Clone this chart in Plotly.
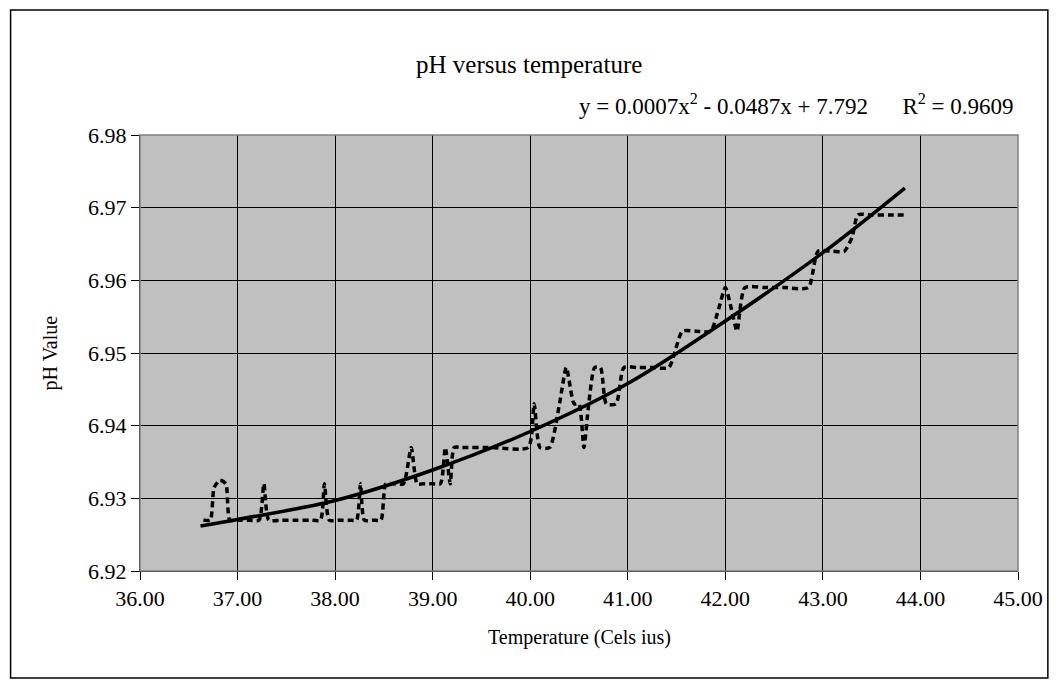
import plotly.graph_objects as go

temp = [36.65, 36.72, 36.76, 36.82, 36.88, 36.92, 37.00, 37.10, 37.22, 37.27,
        37.32, 37.45, 37.60, 37.75, 37.85, 37.89, 37.94, 38.05, 38.15, 38.22,
        38.26, 38.30, 38.40, 38.47, 38.52, 38.60, 38.70, 38.78, 38.84, 38.90,
        39.00, 39.08, 39.13, 39.18, 39.22, 39.30, 39.60, 39.98, 40.04, 40.10,
        40.20, 40.30, 40.37, 40.45, 40.50, 40.55, 40.60, 40.66, 40.72, 40.78,
        40.88, 40.96, 41.10, 41.25, 41.42, 41.56, 41.70, 41.85, 41.93, 42.00,
        42.08, 42.12, 42.20, 42.40, 42.60, 42.85, 42.95, 43.10, 43.22, 43.30,
        43.36, 43.50, 43.70, 43.86]
ph = [6.927, 6.927, 6.9315, 6.9325, 6.932, 6.927, 6.927, 6.927, 6.927, 6.932,
      6.927, 6.927, 6.927, 6.927, 6.927, 6.932, 6.927, 6.927, 6.927, 6.927,
      6.932, 6.927, 6.927, 6.927, 6.932, 6.932, 6.932, 6.937, 6.932, 6.932,
      6.932, 6.932, 6.937, 6.932, 6.937, 6.937, 6.937, 6.937, 6.943, 6.937,
      6.937, 6.943, 6.948, 6.943, 6.943, 6.937, 6.943, 6.948, 6.948, 6.943,
      6.943, 6.948, 6.948, 6.948, 6.948, 6.953, 6.953, 6.953, 6.956, 6.959,
      6.955, 6.953, 6.959, 6.959, 6.959, 6.959, 6.964, 6.964, 6.964, 6.966,
      6.969, 6.969, 6.969, 6.969]

# polynomial trend line, sampled off the chart
trend_temp = [36.62, 37.0, 38.0, 39.0, 40.0, 41.0, 42.0, 43.0, 43.84]
trend_ph = [6.9262, 6.9271, 6.9297, 6.9339, 6.9392, 6.9458, 6.9544, 6.9638, 6.9727]

FONT = "Liberation Serif, Times New Roman, serif"

fig = go.Figure()
fig.add_trace(go.Scatter(x=temp, y=ph, mode='lines', name='pH',
                         line=dict(color='black', width=3.5, dash='6px,4px',
                                   shape='spline', smoothing=0.6)))
fig.add_trace(go.Scatter(x=trend_temp, y=trend_ph, mode='lines', name='Poly. trend',
                         line=dict(color='black', width=3.5, shape='spline')))

axis_common = dict(showgrid=True, gridcolor='black', gridwidth=1, showline=True,
                   linecolor='black', linewidth=1, ticks='outside', ticklen=8,
                   tickcolor='black', zeroline=False,
                   tickfont=dict(family=FONT, size=22, color='black'))

# the page body adds an 8px margin, so the figure is sized to fit inside the window
fig.update_layout(
    width=1047, height=672,
    margin=dict(l=132, r=33, t=127, b=109),
    paper_bgcolor='white', plot_bgcolor='#C0C0C0',
    showlegend=False,
    font=dict(family=FONT, color='black'),
    xaxis=dict(range=[36, 45], dtick=1, tickformat='.2f', **axis_common),
    yaxis=dict(range=[6.92, 6.98], dtick=0.01, tickformat='.2f', **axis_common),
    shapes=[
        # plot area border
        dict(type='rect', xref='paper', yref='paper', x0=0, x1=1, y0=0, y1=1,
             line=dict(color='#808080', width=1.5)),
        # chart area frame
        dict(type='rect', xref='paper', yref='paper', x0=-0.1474, x1=1.034,
             y0=-0.2454, y1=1.2867, line=dict(color='black', width=1.5)),
    ],
    annotations=[
        dict(text='pH versus temperature', xref='paper', yref='paper', x=0.443, y=1.1606,
             xanchor='center', yanchor='middle', showarrow=False,
             font=dict(size=25, family=FONT)),
        dict(text='y = 0.0007x<sup>2</sup> - 0.0487x + 7.792&nbsp;&nbsp;&nbsp;&nbsp;&nbsp;&nbsp;R<sup>2</sup> = 0.9609',
             xref='paper', yref='paper', x=0.9977, y=1.0711, xanchor='right', yanchor='middle',
             showarrow=False, font=dict(size=23, family=FONT)),
        dict(text='pH Value', xref='paper', yref='paper', x=-0.102, y=0.5, textangle=-90,
             xanchor='center', yanchor='middle', showarrow=False,
             font=dict(size=20, family=FONT)),
        dict(text='Temperature (Cels ius)', xref='paper', yref='paper', x=0.5, y=-0.1514,
             xanchor='center', yanchor='middle', showarrow=False,
             font=dict(size=20, family=FONT)),
    ],
)

fig.write_html("out.html")
